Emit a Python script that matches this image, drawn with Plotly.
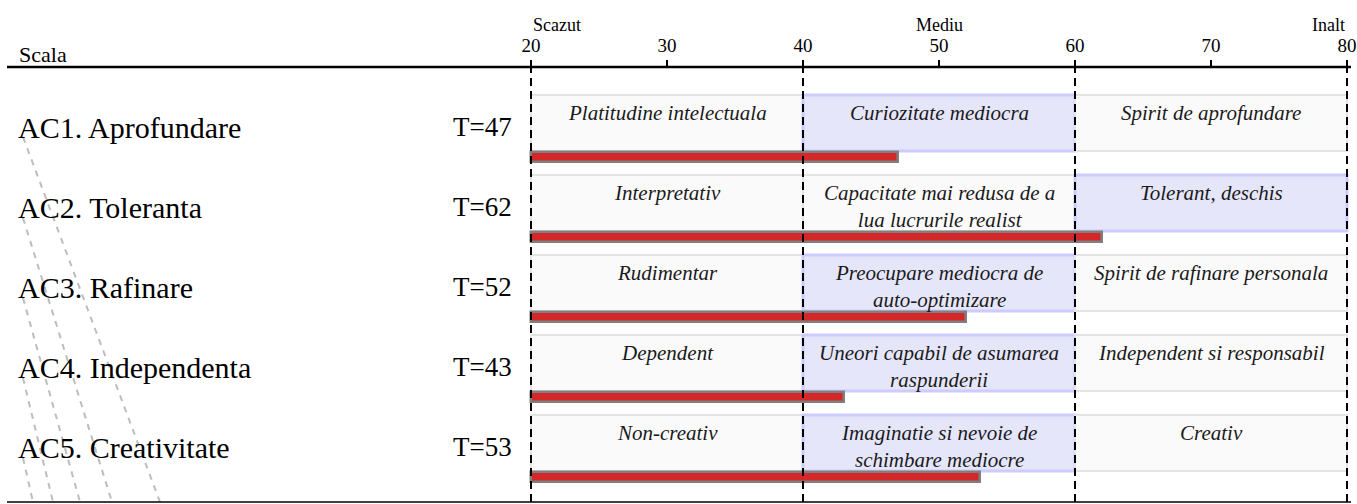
import plotly.graph_objects as go

# ---------------- data ----------------
scales = ["AC1. Aprofundare", "AC2. Toleranta", "AC3. Rafinare", "AC4. Independenta", "AC5. Creativitate"]
t_scores = [47, 62, 52, 43, 53]
band_edges = [20, 40, 60, 80]
tick_values = [20, 30, 40, 50, 60, 70, 80]
tick_labels = ["20", "30", "40", "50", "60", "70", "80"]
level_names = ["Scazut", "Mediu", "Inalt"]
level_positions = [20, 50, 80]
low_texts = ["Platitudine intelectuala", "Interpretativ", "Rudimentar", "Dependent", "Non-creativ"]
mid_texts = ["Curiozitate mediocra", "Capacitate mai redusa de a<br>lua lucrurile realist",
             "Preocupare mediocra de<br>auto-optimizare", "Uneori capabil de asumarea<br>raspunderii",
             "Imaginatie si nevoie de<br>schimbare mediocre"]
high_texts = ["Spirit de aprofundare", "Tolerant, deschis", "Spirit de rafinare personala",
              "Independent si responsabil", "Creativ"]

# ---------------- layout constants ----------------
W, H = 1357, 504
PX_PER_UNIT = 13.6
X20_PX = 531
XMIN = 20 - X20_PX / PX_PER_UNIT
XMAX = 20 + (W - X20_PX) / PX_PER_UNIT
ROW_PX = 80.0
TOP_M, BOT_M = 67, 2
plot_h = H - TOP_M - BOT_M
y_top = -90 / ROW_PX
y_bot = y_top + plot_h / ROW_PX

SERIF = "Liberation Serif, Times New Roman, serif"
RED = "#d62728"
GREY_EDGE = "#7f7f7f"
rows = list(range(len(scales)))

fig = go.Figure()

shapes = []
annotations = []

# bands
for i, t in enumerate(t_scores):
    texts = [low_texts[i], mid_texts[i], high_texts[i]]
    for k in range(3):
        x0, x1 = band_edges[k], band_edges[k + 1]
        active = x0 <= t < x1 or (k == 2 and t >= x1)
        shapes.append(dict(type="rect", xref="x", yref="y", x0=x0, x1=x1,
                           y0=i - 62 / ROW_PX, y1=i - 6 / ROW_PX, layer="below",
                           fillcolor="#e6e6fa" if active else "#fafafa",
                           line=dict(color="#ccccff" if active else "#e4e4e4", width=3 if active else 2)))
        annotations.append(dict(xref="x", yref="y", x=(x0 + x1) / 2, y=i, yshift=58,
                                yanchor="top", xanchor="center", showarrow=False,
                                text="<i>" + texts[k] + "</i>",
                                font=dict(family=SERIF, size=21, color="#1a1a1a")))
    annotations.append(dict(xref="paper", yref="y", x=16 / W, y=i, yshift=30,
                            xanchor="left", yanchor="middle", showarrow=False,
                            text=scales[i], font=dict(family=SERIF, size=30, color="black")))
    annotations.append(dict(xref="x", yref="y", x=20, xshift=-17, y=i, yshift=30,
                            xanchor="right", yanchor="middle", showarrow=False,
                            text="T=%d" % t, font=dict(family=SERIF, size=27, color="black")))

# bars
fig.add_trace(go.Bar(orientation="h", y=rows, x=[t - 20 for t in t_scores], base=20,
                     width=0.13, marker=dict(color=RED, line=dict(color=GREY_EDGE, width=2.5)),
                     hoverinfo="skip", showlegend=False))

# grey diagonal leader artifacts
diag_start_px = [(23, 137), (23, 218), (23, 298), (23, 378), (23, 458)]
diag_end_px = [160, 112, 80, 53, 33]
for (sx, sy), ex in zip(diag_start_px, diag_end_px):
    shapes.append(dict(type="line", xref="paper", yref="paper",
                       x0=sx / W, y0=(H - BOT_M - sy) / plot_h, x1=ex / W, y1=0,
                       line=dict(color="#bdbdbd", width=2, dash="6px,6px"), layer="below"))

# dashed verticals
for e in band_edges:
    shapes.append(dict(type="line", xref="x", yref="paper", x0=e, x1=e, y0=0, y1=1,
                       line=dict(color="black", width=2, dash="8px,5px"), layer="above"))

# frame lines
shapes.append(dict(type="line", xref="paper", yref="paper", x0=7 / W, x1=1351 / W, y0=1, y1=1,
                   line=dict(color="black", width=2.5), layer="above"))
shapes.append(dict(type="line", xref="paper", yref="paper", x0=7 / W, x1=1351 / W, y0=0, y1=0,
                   line=dict(color="black", width=1.5), layer="above"))

# header texts
annotations.append(dict(xref="paper", yref="paper", x=17 / W, y=1, yshift=13,
                        xanchor="left", yanchor="middle", showarrow=False, text="Scala",
                        font=dict(family=SERIF, size=22, color="black")))
anchors = ["left", "center", "right"]
for name, pos, anc in zip(level_names, level_positions, anchors):
    annotations.append(dict(xref="x", yref="paper", x=pos, y=1, yshift=42,
                            xanchor=anc, yanchor="middle", showarrow=False, text=name,
                            font=dict(family=SERIF, size=18, color="black")))

fig.update_layout(
    width=W, height=H,
    margin=dict(l=0, r=0, t=TOP_M, b=BOT_M, pad=0),
    paper_bgcolor="white", plot_bgcolor="white",
    shapes=shapes, annotations=annotations,
    xaxis=dict(range=[XMIN, XMAX], side="top", tickvals=tick_values, ticktext=tick_labels,
               ticks="outside", ticklen=6, tickwidth=2, tickcolor="black",
               tickfont=dict(family=SERIF, size=19, color="black"),
               showgrid=False, zeroline=False, showline=False, fixedrange=True),
    yaxis=dict(range=[y_bot, y_top], visible=False, showgrid=False, zeroline=False, fixedrange=True),
    bargap=0,
)

fig.write_html("out.html", config={"displayModeBar": False},
               post_script="document.body.style.margin='0px';document.body.style.overflow='hidden';")
